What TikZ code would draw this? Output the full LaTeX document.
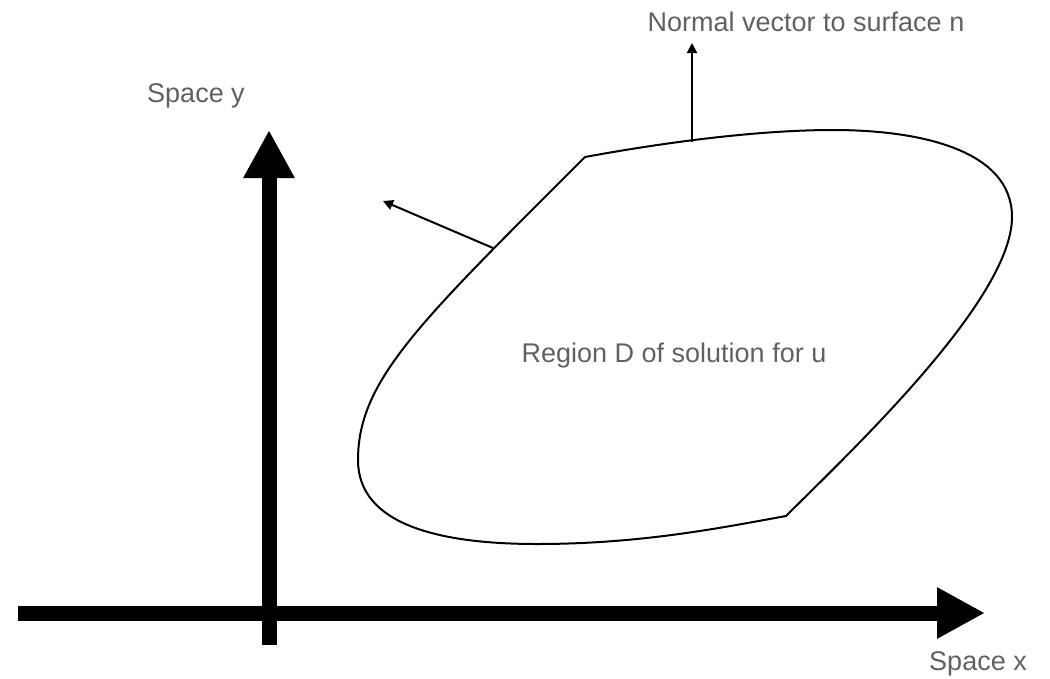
\documentclass[tikz,border=0pt]{standalone}
\usepackage{fontspec}
\setmainfont{Liberation Sans}
\usepackage{xcolor}
\usepackage{tikz}
\usetikzlibrary{arrows.meta,positioning}
\definecolor{labelgray}{gray}{0.38}

\begin{document}
\begin{tikzpicture}[x=1pt, y=-1pt, every node/.style={font=\fontsize{27}{31}\selectfont, text=labelgray, inner sep=0pt},
  axis/.style={line width=15pt, -{Triangle[length=48pt, width=48pt]}},
  normalvec/.style={line width=2pt, -{Triangle[length=10pt, width=10pt]}},
  boundary/.style={line width=2pt, line join=miter}]
\useasboundingbox (0,0) rectangle (1050,678);
\coordinate (xstart) at (18,613);
\coordinate (xend) at (985,613);
\coordinate (ystart) at (269,645);
\coordinate (yend) at (269,130);
\draw[axis] (xstart) -- (xend);
\draw[axis] (ystart) -- (yend);
\node[anchor=base] (ylabel) at (196,102) {Space y};
\node[anchor=base] (xlabel) at (978,670) {Space x};
\draw[boundary] (585,157) .. controls (420,322) and (358,380) .. (358,460)
  .. controls (358,525) and (440,544) .. (537,544)
  .. controls (640,544) and (720,528) .. (786,516)
  .. controls (850,452) and (1012,300) .. (1012,217)
  .. controls (1012,150) and (920,130) .. (833,130)
  .. controls (750,130) and (650,145) .. cycle;
\node[anchor=base] (region) at (674,362) {Region D of solution for u};
\coordinate (topfoot) at (692,142);
\coordinate (toptip) at (692,43);
\coordinate (leftfoot) at (493,248);
\coordinate (lefttip) at (383,201);
\draw[normalvec] (topfoot) -- (toptip);
\draw[normalvec] (leftfoot) -- (lefttip);
\node[anchor=base] (normal) at (806,31) {Normal vector to surface n};
\end{tikzpicture}
\end{document}
